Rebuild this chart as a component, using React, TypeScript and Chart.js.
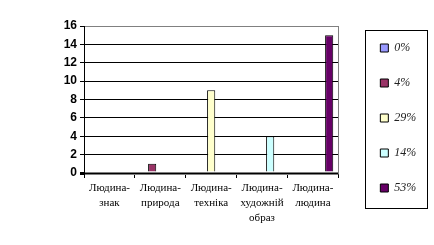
import React, { useEffect, useRef } from "react";
import { Chart, registerables } from "chart.js";

Chart.register(...registerables);

const categories: string[][] = [
  ["Людина-", "знак"],
  ["Людина-", "природа"],
  ["Людина-", "техніка"],
  ["Людина-", "художній", "образ"],
  ["Людина-", "людина"],
];
const seriesLabels = ["0%", "4%", "29%", "14%", "53%"];
const seriesValues = [0, 1, 9, 4, 15];
const seriesColors = ["#9999FF", "#993366", "#FFFFCC", "#CCFFFF", "#660066"];
const yMin = 0;
const yMax = 16;
const yStep = 2;

const legendFrame = {
  id: "legendFrame",
  afterDraw(chart: any) {
    const lg = chart.legend;
    const hb = lg && lg.legendHitBoxes;
    if (!hb || !hb.length) return;
    const ctx = chart.ctx;
    const first = hb[0];
    const last = hb[hb.length - 1];
    const x1 = Math.round(first.left - 15) + 0.5;
    const y1 = Math.round(first.top - 12) + 0.5;
    const x2 = Math.round(first.left + 47) + 0.5;
    const y2 = Math.round(last.top + last.height + 14) + 0.5;
    ctx.save();
    ctx.strokeStyle = "#000";
    ctx.lineWidth = 1;
    ctx.strokeRect(x1, y1, x2 - x1, y2 - y1);
    ctx.restore();
  },
};

export default function App() {
  const ref = useRef<HTMLCanvasElement | null>(null);
  useEffect(() => {
    if (!ref.current) return;
    const chart = new Chart(ref.current, {
      type: "bar",
      data: {
        labels: categories,
        datasets: seriesLabels.map((label, i) => ({
          label,
          data: categories.map((_, j) => (j === i ? seriesValues[i] : null)),
          backgroundColor: seriesColors[i],
          borderColor: "#000",
          borderWidth: 1,
          barPercentage: 1,
          categoryPercentage: 0.8,
        })),
      },
      options: {
        responsive: false,
        animation: false,
        layout: { padding: { left: 54, top: 1, right: 16, bottom: 10 } },
        plugins: {
          tooltip: { enabled: false },
          legend: {
            position: "right",
            labels: {
              boxWidth: 8,
              boxHeight: 8,
              padding: 23,
              color: "#222",
              font: { family: "'Liberation Serif', serif", size: 12, style: "italic" },
            },
          },
        },
        scales: {
          x: {
            afterFit: (s: any) => {
              s.height = 62;
            },
            grid: {
              display: true,
              drawOnChartArea: false,
              drawTicks: true,
              tickLength: 5,
              tickColor: "#000",
              offset: true,
            },
            border: { display: true, color: "#000", width: 1 },
            ticks: {
              color: "#000",
              padding: 3,
              maxRotation: 0,
              autoSkip: false,
              font: { family: "'Liberation Serif', serif", size: 11, lineHeight: "15px" },
            },
          },
          xTop: {
            type: "linear",
            position: "top",
            display: true,
            afterFit: (s: any) => {
              s.height = 25;
            },
            grid: { display: false, drawTicks: false },
            ticks: { display: false },
            border: { display: false },
          },
          y: {
            min: yMin,
            max: yMax,
            afterFit: (s: any) => {
              s.width = 30;
            },
            ticks: {
              stepSize: yStep,
              color: "#000",
              padding: 3,
              font: { family: "'Liberation Sans', Arial, sans-serif", size: 12, weight: "bold" },
            },
            grid: {
              color: (c: any) => (c.tick && (c.tick.value === yMax || c.tick.value === yMin) ? "#808080" : "#000"),
              lineWidth: (c: any) => (c.tick && c.tick.value === yMin ? 3 : 1),
              tickColor: "#000",
              tickLength: 4,
            },
            border: { display: true, color: "#000", width: 1 },
          },
          y2: {
            type: "linear",
            position: "right",
            display: true,
            afterFit: (s: any) => {
              s.width = 19;
            },
            grid: { display: false, drawTicks: false },
            ticks: { display: false },
            border: { display: true, color: "#808080", width: 1 },
          },
        },
      },
      plugins: [legendFrame],
    } as any);
    return () => chart.destroy();
  }, []);
  return (
    <canvas
      ref={ref}
      width={434}
      height={245}
      style={{ position: "absolute", left: 0, top: 0, display: "block" }}
    />
  );
}
